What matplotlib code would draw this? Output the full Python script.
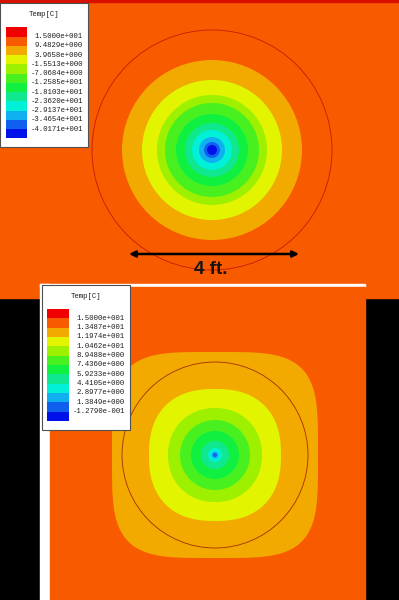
import matplotlib.pyplot as plt
from matplotlib.patches import Rectangle, Circle, Polygon
import numpy as np

# 12 contour band colours (hot -> cold), as in the legend
band_colors = ['#f00000', '#f85a00', '#f2a900', '#e2f400', '#9cf000', '#48f020',
               '#10f040', '#10e890', '#00f0d8', '#10b0f0', '#1060f0', '#0010e8']

top_labels = ['1.5000e+001', '9.4829e+000', '3.9658e+000', '-1.5513e+000',
              '-7.0684e+000', '-1.2585e+001', '-1.8103e+001', '-2.3620e+001',
              '-2.9137e+001', '-3.4654e+001', '-4.0171e+001']
bot_labels = ['1.5000e+001', '1.3487e+001', '1.1974e+001', '1.0462e+001',
              '8.9488e+000', '7.4360e+000', '5.9233e+000', '4.4105e+000',
              '2.8977e+000', '1.3849e+000', '-1.2790e-001']

# ring outer radii (px) per band index
top_bands = [2, 3, 4, 5, 6, 7, 8, 9, 10, 11]
top_radii = [90, 70, 55, 47, 36, 27, 20, 13, 8, 5]
bot_bands = [2, 3, 4, 5, 6, 7, 8, 9, 10]
bot_radii = [103, 66, 47, 35, 24, 14, 7, 3.5, 2]
bot_power = [4.0, 2.4, 2.1, 2.0, 2.0, 2.0, 2.0, 2.0, 2.0]

top_c = (212, 150)
bot_c = (215, 455)

mono = 'Liberation Mono'

fig = plt.figure(figsize=(3.99, 6.0), dpi=100, facecolor='black')
ax = fig.add_axes([0, 0, 1, 1])
ax.set_xlim(0, 399)
ax.set_ylim(600, 0)
ax.axis('off')


def squircle(c, r, n):
    t = np.linspace(0, 2 * np.pi, 400)
    ct, st = np.cos(t), np.sin(t)
    x = c[0] + r * np.sign(ct) * np.abs(ct) ** (2 / n)
    y = c[1] + r * np.sign(st) * np.abs(st) ** (2 / n)
    return np.column_stack([x, y])


# top panel
ax.add_patch(Rectangle((0, 0), 399, 298, color=band_colors[1], zorder=1))
ax.add_patch(Rectangle((0, 0), 399, 1.5, color='#d81000', zorder=2))
for b, r in zip(top_bands, top_radii):
    ax.add_patch(Circle(top_c, r, color=band_colors[b], lw=0, zorder=3))
ax.add_patch(Circle(top_c, 120, fill=False, ec='#c81a00', lw=0.6, zorder=4))

ax.annotate('', xy=(299, 254), xytext=(129, 254),
            arrowprops=dict(arrowstyle='<|-|>', color='black', lw=1.8,
                            mutation_scale=9, shrinkA=0, shrinkB=0), zorder=5)
ax.text(211, 270, '4 ft.', ha='center', va='center', fontsize=13.5,
        fontweight='bold', family='Liberation Sans', color='#151515', zorder=5)

# bottom panel
ax.add_patch(Rectangle((40, 284), 10, 316, color='white', zorder=1))
ax.add_patch(Rectangle((40, 284), 325, 3, color='white', zorder=1))
ax.add_patch(Rectangle((50, 287), 315, 313, color=band_colors[1], zorder=1))
for b, r, n in zip(bot_bands, bot_radii, bot_power):
    ax.add_patch(Polygon(squircle(bot_c, r, n), color=band_colors[b], lw=0, zorder=3))
ax.add_patch(Circle(bot_c, 93, fill=False, ec='#a03000', lw=0.6, zorder=4))


def legend(x0, y0, w, h, sw_x, sw_w, sw_y, sw_h, lab_x, labels):
    ax.add_patch(Rectangle((x0, y0), w, h, fc='white', ec='#505050', lw=0.8, zorder=6))
    ax.text(x0 + w / 2, y0 + 11, 'Temp[C]', ha='center', va='center',
            fontsize=5.3, family=mono, color='#202020', zorder=7)
    for i, col in enumerate(band_colors):
        ax.add_patch(Rectangle((sw_x, sw_y + i * sw_h), sw_w, sw_h, color=col, lw=0, zorder=7))
    for i, lab in enumerate(labels):
        ax.text(lab_x, sw_y + (i + 1) * sw_h, lab, ha='right', va='center',
                fontsize=5.3, family=mono, color='#202020', zorder=7)


legend(0, 3, 88, 144, 6, 21, 27.3, 9.25, 83, top_labels)
legend(42, 285, 88, 145, 47, 22, 309, 9.33, 125, bot_labels)

fig.savefig('out.png', dpi=100, facecolor='black')
